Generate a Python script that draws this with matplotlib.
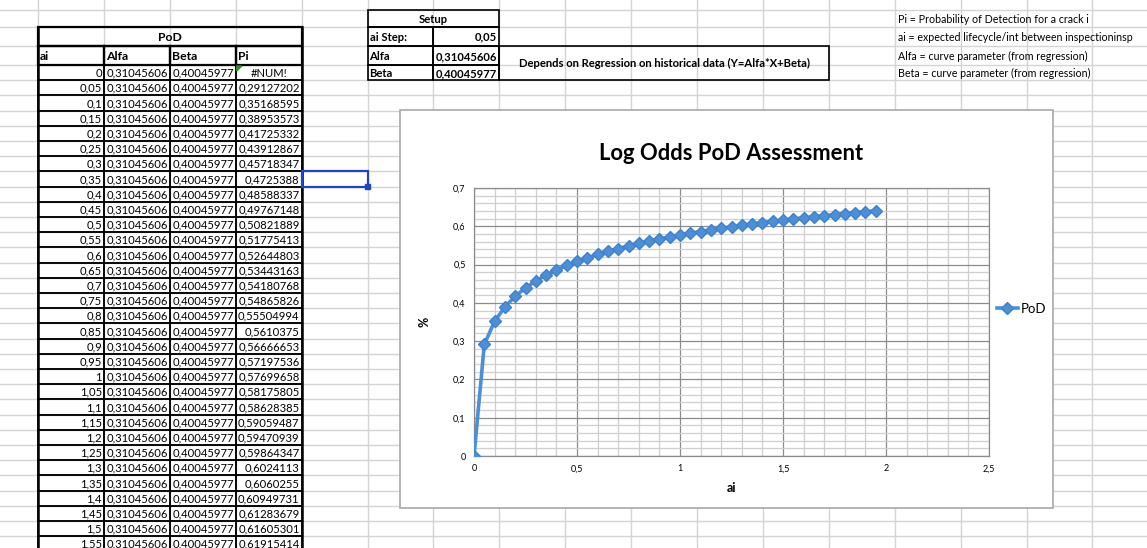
import matplotlib.pyplot as plt
from matplotlib.patches import Rectangle, Polygon
from matplotlib.ticker import MultipleLocator, FuncFormatter

plt.rcParams['font.family'] = ['Lato', 'DejaVu Sans']

# data
ai = [0, 0.05, 0.1, 0.15, 0.2, 0.25, 0.3, 0.35, 0.4, 0.45,
      0.5, 0.55, 0.6, 0.65, 0.7, 0.75, 0.8, 0.85, 0.9, 0.95,
      1, 1.05, 1.1, 1.15, 1.2, 1.25, 1.3, 1.35, 1.4, 1.45,
      1.5, 1.55, 1.6, 1.65, 1.7, 1.75, 1.8, 1.85, 1.9, 1.95]
alfa = 0.31045606
beta = 0.40045977
ai_step = 0.05
# Pi column as shown in the sheet (first cell is #NUM!)
pi_table = [None, 0.29127202, 0.35168595, 0.38953573, 0.41725332, 0.43912867,
            0.45718347, 0.4725388, 0.48588337, 0.49767148, 0.50821889,
            0.51775413, 0.52644803, 0.53443163, 0.54180768, 0.54865826,
            0.55504994, 0.5610375, 0.56666653, 0.57197536, 0.57699658,
            0.58175805, 0.58628385, 0.59059487, 0.59470939, 0.59864347,
            0.6024113, 0.6060255, 0.60949731, 0.61283679, 0.61605301,
            0.61915414]
# rows below the visible part of the sheet
pi_hidden = [0.6222, 0.6251, 0.6279, 0.6306, 0.6332, 0.6357, 0.6381, 0.6404]
pod = [0] + pi_table[1:] + pi_hidden

notes = ['Pi = Probability of Detection for a crack i',
         'ai = expected lifecycle/int between inspectioninsp',
         'Alfa = curve parameter (from regression)',
         'Beta = curve parameter (from regression)']

W, H = 1147, 548
fig = plt.figure(figsize=(W / 100, H / 100), dpi=100)
bg = fig.add_axes([0, 0, 1, 1])
bg.set_xlim(0, W)
bg.set_ylim(H, 0)
bg.axis('off')

# sheet grid
col_x = [38 + 65.9 * k for k in range(17)]
row_y = [10, 26.7, 45.7, 65] + [65 + 15.2 * k for k in range(1, 33)]
for x in col_x:
    bg.plot([x, x], [0, H], color='#d4d4d4', lw=1, zorder=0)
for y in row_y:
    bg.plot([0, W], [y, y], color='#d4d4d4', lw=1, zorder=0)


def fmt(v):
    return f'{v:g}'.replace('.', ',')


def txt(x, y, s, ha='left', bold=False, size=8.1):
    bg.text(x, y, s, ha=ha, va='center', fontsize=size,
            fontweight='bold' if bold else 'normal', zorder=3)


def box(x0, y0, x1, y1, lw=1.0):
    bg.add_patch(Rectangle((x0, y0), x1 - x0, y1 - y0, fill=False,
                           edgecolor='black', lw=lw, zorder=2))


# PoD table
c = col_x[:5]
box(c[0], row_y[1], c[4], row_y[2], 1.6)
txt((c[0] + c[4]) / 2, (row_y[1] + row_y[2]) / 2 + 1, 'PoD', ha='center', bold=True, size=8.8)
for i, h in enumerate(['ai', 'Alfa', 'Beta', 'Pi']):
    box(c[i], row_y[2], c[i + 1], row_y[3], 1.6)
    txt(c[i] + 2, (row_y[2] + row_y[3]) / 2 + 1, h, bold=True, size=8.8)
for r in range(len(pi_table)):
    y0 = row_y[3] + 15.2 * r
    y1 = y0 + 15.2
    yc = (y0 + y1) / 2 + 0.5
    for i in range(4):
        box(c[i], y0, c[i + 1], y1, 1.1)
    txt(c[1] - 2, yc, fmt(ai[r]), ha='right')
    txt(c[2] - 2, yc, str(alfa).replace('.', ','), ha='right')
    txt(c[3] - 2, yc, str(beta).replace('.', ','), ha='right')
    if pi_table[r] is None:
        txt((c[3] + c[4]) / 2, yc, '#NUM!', ha='center')
        bg.add_patch(Polygon([[c[3] + 1, y0 + 1], [c[3] + 6, y0 + 1], [c[3] + 1, y0 + 6]],
                             color='#2e8b2e', zorder=4))
    else:
        txt(c[4] - 2, yc, str(pi_table[r]).replace('.', ','), ha='right')
bg.plot([c[0], c[0]], [row_y[1], H], color='black', lw=1.8, zorder=3)
bg.plot([c[4], c[4]], [row_y[1], H], color='black', lw=1.8, zorder=3)

# selected cell
sel_y = row_y[3] + 15.2 * 7
bg.add_patch(Rectangle((c[4], sel_y), col_x[5] - c[4], 15.2, fill=False,
                       edgecolor='#1f44cc', lw=1.6, zorder=4))
bg.add_patch(Rectangle((col_x[5] - 2.5, sel_y + 15.2 - 2.5), 5, 5,
                       color='#1f44cc', zorder=5))

# Setup table
s0, s1, s2 = col_x[5], col_x[6], col_x[7]
box(s0, row_y[0], s2, row_y[1], 1.2)
txt((s0 + s2) / 2, (row_y[0] + row_y[1]) / 2 + 1, 'Setup', ha='center', bold=True)
setup = [('ai Step:', fmt(ai_step)), ('Alfa', str(alfa).replace('.', ',')),
         ('Beta', str(beta).replace('.', ','))]
for k, (lab, val) in enumerate(setup):
    y0, y1 = (row_y[1], row_y[2], row_y[3], 80)[k:k + 2]
    box(s0, y0, s1, y1, 1.2)
    box(s1, y0, s2, y1, 1.2)
    txt(s0 + 2, (y0 + y1) / 2 + 1, lab, bold=True)
    txt(s2 - 2, (y0 + y1) / 2 + 1, val, ha='right', bold=True)

box(s2, row_y[2], col_x[12], 80, 1.2)
txt((s2 + col_x[12]) / 2, (row_y[2] + 80) / 2 + 1,
    'Depends on Regression on historical data (Y=Alfa*X+Beta)', ha='center', bold=True)

for k, n in enumerate(notes):
    y0, y1 = (row_y[0], row_y[1], row_y[2], row_y[3], 80)[k:k + 2]
    txt(col_x[13] + 3, (y0 + y1) / 2 + 1, n, size=7.7)

# chart area
bg.add_patch(Rectangle((400, 110), 653, 398, facecolor='white',
                       edgecolor='#a8a8a8', lw=1.2, zorder=6))

ax = fig.add_axes([474 / W, 1 - 456 / H, (989 - 474) / W, (456 - 188) / H], zorder=10)
ax.set_facecolor('white')
ax.plot(ai, pod, color='#4a8fd8', lw=2.6, marker='D', markersize=6.2,
        markeredgecolor='#3f82cc', label='PoD', zorder=5)
ax.set_xlim(0, 2.5)
ax.set_ylim(0, 0.7)
ax.xaxis.set_major_locator(MultipleLocator(0.5))
ax.xaxis.set_minor_locator(MultipleLocator(0.1))
ax.yaxis.set_major_locator(MultipleLocator(0.1))
ax.yaxis.set_minor_locator(MultipleLocator(0.02))
ax.grid(which='major', color='#8c8c8c', lw=0.9)
ax.grid(which='minor', color='#cfcfcf', lw=0.9)
ax.set_axisbelow(True)
ax.tick_params(which='both', length=0, labelsize=6.5, pad=6)
ax.xaxis.set_major_formatter(FuncFormatter(lambda v, p: fmt(round(v, 2))))
ax.yaxis.set_major_formatter(FuncFormatter(lambda v, p: fmt(round(v, 2))))
for sp in ax.spines.values():
    sp.set_color('#8c8c8c')
    sp.set_linewidth(0.9)
ax.text(0.5, 1.13, 'Log Odds PoD Assessment', transform=ax.transAxes,
        ha='center', va='center', fontsize=15.8, fontweight='bold')
ax.set_xlabel('ai', fontsize=9, fontweight='bold', labelpad=6)
ax.set_ylabel('%', fontsize=9, fontweight='bold', labelpad=16)
ax.legend(loc='center left', bbox_to_anchor=(1.0, 0.55), frameon=False,
          fontsize=9.5, handlelength=1.6, handletextpad=0.2, borderaxespad=0.2)

fig.savefig('out.png', dpi=100)
